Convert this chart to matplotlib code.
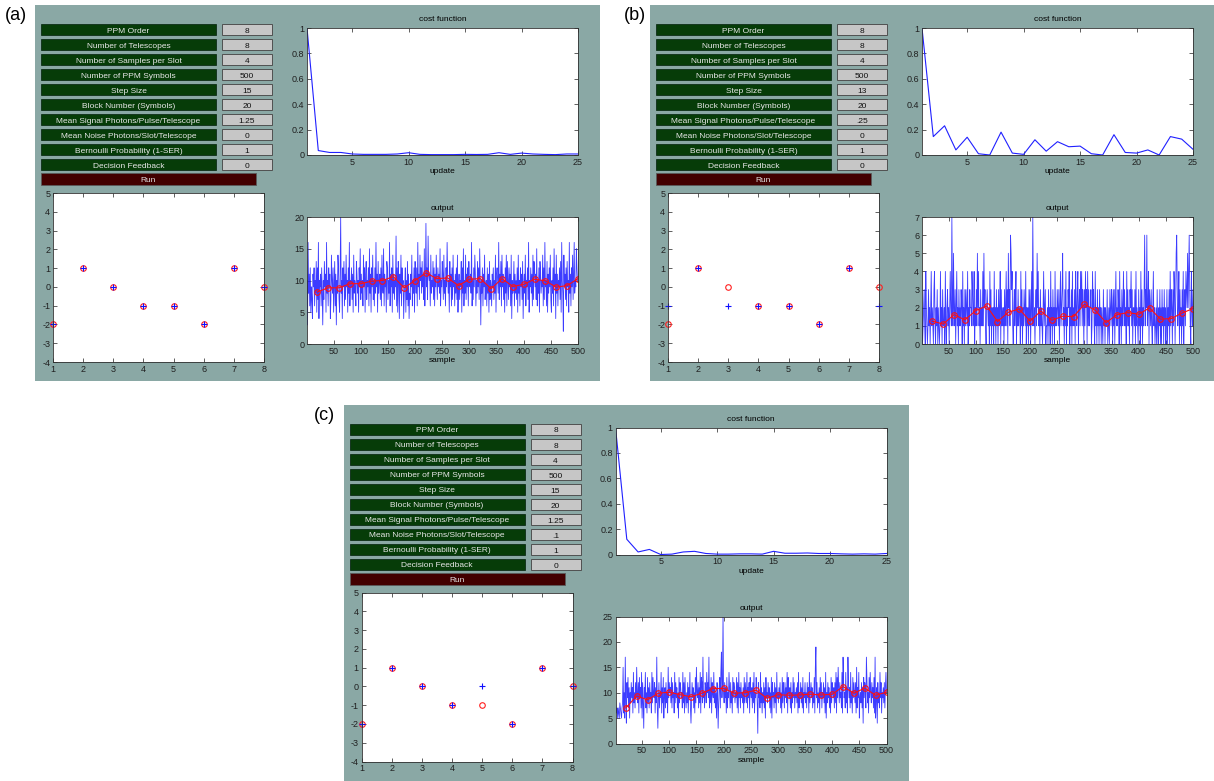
import matplotlib
matplotlib.use("Agg")
import matplotlib.pyplot as plt
from matplotlib.patches import Rectangle
from matplotlib.ticker import FuncFormatter

plt.rcParams['font.family'] = ['Liberation Sans', 'DejaVu Sans']

W, H = 1214, 781

# GUI parameter names and the value typed in each box
labels = ["PPM Order", "Number of Telescopes", "Number of Samples per Slot",
          "Number of PPM Symbols", "Step Size", "Block Number (Symbols)",
          "Mean Signal Photons/Pulse/Telescope", "Mean Noise Photons/Slot/Telescope",
          "Bernoulli Probability (1-SER)", "Decision Feedback"]
values_a = ["8", "8", "4", "500", "15", "20", "1.25", "0", "1", "0"]
values_b = ["8", "8", "4", "500", "13", "20", ".25", "0", "1", "0"]
values_c = ["8", "8", "4", "500", "15", "20", "1.25", ".1", "1", "0"]

# decided symbols (red o) and detected symbols (blue +)
slots = [1, 2, 3, 4, 5, 6, 7, 8]
sent = [-2, 1, 0, -1, -1, -2, 1, 0]
det_a = [-2, 1, 0, -1, -1, -2, 1, 0]
det_b = [-1, 1, -1, -1, -1, -2, 1, -1]
det_c = [-2, 1, 0, -1, 0, -2, 1, 0]

# cost function per update
updates = list(range(1, 26))
cost_a = [1.0, 0.035, 0.02, 0.02, 0.008, 0.005, 0.005, 0.005, 0.008, 0.018, 0.005, 0.003,
          0.003, 0.003, 0.005, 0.004, 0.005, 0.018, 0.005, 0.015, 0.008, 0.005, 0.003, 0.008, 0.008]
cost_b = [1.0, 0.145, 0.23, 0.04, 0.14, 0.01, 0.0, 0.18, 0.015, 0.005, 0.12, 0.03, 0.105,
          0.065, 0.07, 0.01, 0.0, 0.16, 0.02, 0.015, 0.04, 0.0, 0.145, 0.125, 0.045]
cost_c = [1.0, 0.12, 0.02, 0.04, 0.0, 0.003, 0.02, 0.025, 0.008, 0.003, 0.003, 0.005, 0.005,
          0.003, 0.025, 0.01, 0.01, 0.012, 0.008, 0.008, 0.005, 0.003, 0.005, 0.003, 0.008]

# detector output per sample, one base-36 digit per sample
out_a_str = ("a3g8b6c5974b9c6a8d5c7g4a9b6c83a7d9b5g8a6c9b47ea8c5"
             "9d6b3a8ec75bk8a4c9d6b7e9a5c8g6a9c7b5e8a96db8a5c9f7"
             "b8a6e9c5bd7a9c6f8b5c9e7a6c8g9b5d8ab7c6e98f6b9a5dc7"
             "a8g6b9c5e8b7a9h6c5da4b8e6c9a489c5a7d6b487b9e6a8c5d"
             "a8c6g9b7eac8d9b7f6aj9c7hbab6e8a9d7c6b9ea7c9b8f6a9d"
             "b7e8a6c9gb8a5d9b6c7e9a6b8c7e59b7a9d5c8f6a8e7b9c6da"
             "9b8g6a7c9eb6a8d9c7fa3a8c6b9e79a6c8b5d7a96b9c7a8e5b"
             "ca8g7b9d6e9b7a5c8e6da7c9b6e4a89d6b8a7c5e8a6c9b7d49"
             "b8e6a9c7g5a9c8b6e7dc9b7f6a8c5db8a9e6c7g9a6d5b8c9e7"
             "5a8c6f9b4e8b6a9c7d5ga82e9b7c6d9a5g8b6c9e7bg8a9fcaa")
out_b_str = ("20123104210131202412103410213021014120311204102312"
             "02421731521302412031213204120313214021322143124021"
             "31524120312141523102321204130212041203120312403121"
             "20312413052316534102312402131220413021321402120313"
             "02417312023152412031210241230112031204120312041213"
             "21302412351203140213240213041213042134023142413203"
             "14230413122301423104120312031202103120211301203213"
             "20313024121320412031241312041312032413022130412103"
             "12041302136132612403213102412012031021302031203120"
             "13021304132031430256312403120314023143252463104213")
out_c_str = ("87675765876578f6a5h84c9d7b5a8c9b6e8a7c9fa8c6d9b7e5"
             "c83b9e7a6d8b7c9a6e8da9c6b8h739c7a9e6b8d59b7c8a6f9c"
             "ab8d7c9a6e8c9b7a5d8cb9a7e8c6d97a8c6b9e748c9b7a6d8f"
             "a9c7b8e6dc8h9a7cb8eac9h7b8d6ca9e8b7a5c938bd7ei9cpa"
             "8c9b6d7a9eb7c8a6d9cb8a9d7c6e9b7c9a8b6d8ca8e7b9c6da"
             "9b7c8e6a9db82c9a7e8b6a8c7b5d9a8c9b7a6d5c9a7c8b6e9a"
             "8b9c7a6d8ca7c9b8e6da9b7c6a8d9c7a9b8c6e7a9c8b7d6a9c"
             "8a7c9b6e8ac9b7a8d6fj9c7a8b6d9c7a9c8b6e5a8c9b7a6d8c"
             "a9b7c8e6d9fb8c9a7e6hc9a7e8b6hc9b7e8a6d9ca8c6f7b9e5"
             "9a8c7b4d9cb7hc8a6d9ea8c9b7d6h59b4c8a7e9c6a9b8c7bea")
out_a = [int(ch, 36) for ch in out_a_str]
out_b = [int(ch, 36) for ch in out_b_str]
out_c = [int(ch, 36) for ch in out_c_str]
samples = list(range(1, 501))

# block averages every 20 samples
blocks = list(range(20, 501, 20))
avg_a = [8.2, 8.85, 8.85, 9.5, 9.5, 9.9, 10.0, 10.6, 8.85, 10.0, 11.2, 10.3, 10.4,
         9.2, 10.2, 10.3, 8.7, 10.3, 9.05, 9.4, 10.2, 9.95, 8.95, 9.2, 10.3]
avg_b = [1.26, 1.1, 1.62, 1.33, 1.84, 2.1, 1.24, 1.75, 1.93, 1.26, 1.82, 1.31, 1.53,
         1.51, 2.19, 1.86, 1.18, 1.62, 1.73, 1.64, 1.99, 1.37, 1.4, 1.71, 1.95]
avg_c = [7.0, 9.35, 8.6, 9.9, 10.1, 9.6, 9.2, 9.9, 10.8, 10.85, 9.9, 10.0, 10.5,
         8.9, 9.6, 9.5, 9.55, 9.7, 9.55, 9.7, 11.2, 9.9, 10.9, 9.5, 10.1]

BG = "#8aa8a5"
GREEN = "#063c08"
BOX = "#c6c6c6"
RUN = "#420000"

fig = plt.figure(figsize=(W / 100, H / 100), dpi=100)
canvas = fig.add_axes([0, 0, 1, 1])
canvas.set_xlim(0, W)
canvas.set_ylim(H, 0)
canvas.axis("off")
canvas.set_zorder(0)


def px_axes(x0, y0, x1, y1):
    ax = fig.add_axes([x0 / W, 1 - y1 / H, (x1 - x0) / W, (y1 - y0) / H])
    ax.set_zorder(2)
    ax.set_facecolor("white")
    ax.tick_params(direction="in", top=True, right=True, length=3, width=0.5,
                   labelsize=6.5, pad=2, colors="#202020")
    for s in ax.spines.values():
        s.set_linewidth(0.6)
        s.set_color("#303030")
    ax.yaxis.set_major_formatter(FuncFormatter(lambda v, p: "%g" % v))
    return ax


def draw_panel(dx, dy, tag, tag_x, vals, det, cost, out, avg, ymax, ystep):
    canvas.add_patch(Rectangle((35 + dx, 5 + dy), 565, 376, color=BG, lw=0))
    canvas.text(tag_x, 16 + dy, tag, fontsize=13, ha="left", va="center")
    for i, (lab, v) in enumerate(zip(labels, vals)):
        top = 24 + 15.04 * i + dy
        canvas.add_patch(Rectangle((41 + dx, top), 175, 11, facecolor=GREEN,
                                   edgecolor="#02200a", lw=0.5))
        canvas.text(128.5 + dx, top + 8.6, lab, fontsize=6, color="#e8e8e8",
                    ha="center", va="baseline")
        canvas.add_patch(Rectangle((222 + dx, top), 50, 11, facecolor=BOX,
                                   edgecolor="#505050", lw=0.7))
        canvas.text(247 + dx, top + 9, v, fontsize=6, color="#101010",
                    ha="center", va="baseline")
    canvas.add_patch(Rectangle((41 + dx, 173 + dy), 215, 12, facecolor=RUN,
                               edgecolor="#5a5a5a", lw=0.6))
    canvas.text(148.5 + dx, 182 + dy, "Run", fontsize=6, color="#e0e0e0",
                ha="center", va="baseline")

    # cost function
    ax = px_axes(307 + dx, 28 + dy, 578 + dx, 155 + dy)
    ax.plot(updates, cost, color="#2020ff", lw=0.8)
    ax.set_xlim(1, 25)
    ax.set_ylim(0, 1)
    ax.set_xticks([5, 10, 15, 20, 25])
    ax.set_yticks([0, 0.2, 0.4, 0.6, 0.8, 1])
    ax.set_title("cost function", fontsize=6, pad=5)
    ax.set_xlabel("update", fontsize=6, labelpad=1)

    # symbol decisions
    ax = px_axes(53 + dx, 193 + dy, 264 + dx, 362 + dy)
    ax.plot(slots, sent, "o", mfc="none", mec="#ff2020", ms=4, mew=0.8, clip_on=False)
    ax.plot(slots, det, "+", color="#1010ff", ms=5, mew=0.8, clip_on=False)
    ax.set_xlim(1, 8)
    ax.set_ylim(-4, 5)
    ax.set_xticks(slots)
    ax.set_yticks(range(-4, 6))

    # detector output
    ax = px_axes(307 + dx, 217 + dy, 578 + dx, 344 + dy)
    ax.plot(samples, out, color="#1a1aff", lw=0.6, alpha=0.85)
    ax.plot(blocks, avg, "-o", color="#ff1010", mfc="none", ms=4, mew=0.8, lw=0.8)
    ax.set_xlim(1, 500)
    ax.set_ylim(0, ymax)
    ax.set_xticks(range(50, 501, 50))
    ax.set_yticks(range(0, ymax + 1, ystep))
    ax.set_title("output", fontsize=6, pad=5)
    ax.set_xlabel("sample", fontsize=6, labelpad=1)


draw_panel(0, 0, "(a)", 5, values_a, det_a, cost_a, out_a, avg_a, 20, 5)
draw_panel(615, 0, "(b)", 624, values_b, det_b, cost_b, out_b, avg_b, 7, 1)
draw_panel(308.5, 399.5, "(c)", 314, values_c, det_c, cost_c, out_c, avg_c, 25, 5)

fig.savefig("out.png", dpi=100)
